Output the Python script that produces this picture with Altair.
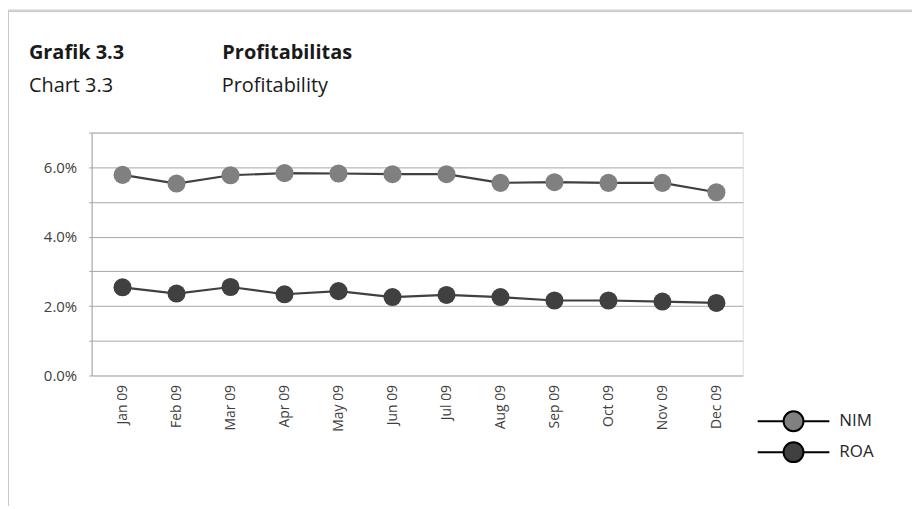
import altair as alt
import pandas as pd

months = ["Jan 09", "Feb 09", "Mar 09", "Apr 09", "May 09", "Jun 09",
          "Jul 09", "Aug 09", "Sep 09", "Oct 09", "Nov 09", "Dec 09"]
nim = [5.78, 5.53, 5.77, 5.83, 5.82, 5.80, 5.80, 5.55, 5.57, 5.55, 5.55, 5.28]
roa = [2.54, 2.36, 2.55, 2.34, 2.43, 2.26, 2.32, 2.26, 2.16, 2.16, 2.13, 2.09]
series = ["NIM", "ROA"]
colors = ["#808080", "#404040"]

rows = []
for name, vals in zip(series, [nim, roa]):
    for m, v in zip(months, vals):
        rows.append({"month": m, "series": name, "value": v / 100})
df = pd.DataFrame(rows)

FONT = "Open Sans"
legend_path = ("M-3.6,0H-1M1,0H3.6"
               "M1,0A1,1,0,1,1,-1,0A1,1,0,1,1,1,0Z")

x = alt.X("month:N", sort=months, title=None,
          scale=alt.Scale(padding=0.53, align=0.54),
          axis=alt.Axis(labelAngle=-90, ticks=False, domain=False, grid=False,
                        labelFontSize=14, labelColor="#404040", labelPadding=9,
                        labelFont=FONT))
y = alt.Y("value:Q", title=None,
          scale=alt.Scale(domain=[0, 0.07], nice=False),
          axis=alt.Axis(values=[0, 0.01, 0.02, 0.03, 0.04, 0.05, 0.06, 0.07],
                        labelExpr="round(datum.value*100) % 2 == 0 ? format(datum.value, '.1%') : ''",
                        grid=True, gridColor="#a6a6a6", gridWidth=1,
                        domainColor="#a6a6a6", tickColor="#a6a6a6", tickSize=3,
                        labelFontSize=15, labelColor="#404040", labelPadding=12,
                        labelFont=FONT))

lines = alt.Chart(df).mark_line(color="#404040", strokeWidth=2.2).encode(
    x=x, y=y, detail="series:N")

points = alt.Chart(df).mark_circle(size=330, opacity=1).encode(
    x=x, y=y,
    color=alt.Color("series:N", sort=series,
                    scale=alt.Scale(domain=series, range=colors),
                    legend=alt.Legend(title=None, orient="none",
                                      legendX=694, legendY=279,
                                      symbolType=legend_path, symbolSize=400,
                                      symbolStrokeColor="black",
                                      symbolStrokeWidth=2,
                                      labelOffset=35, rowPadding=3,
                                      labelFontSize=17, labelColor="#262626",
                                      labelFont=FONT)))

# decorative frame shadow (top and left edges of the reference's panel)
one = pd.DataFrame({"k": [0]})
shadow_top = [
    alt.Chart(one).mark_rule(color=c, strokeWidth=1).encode(
        x=alt.value(-84), x2=alt.value(830), y=alt.value(-124 + i + 0.5))
    for i, c in enumerate(["#e4e4e4", "#d2d2d2", "#c2c2c2"])
]
shadow_left = [
    alt.Chart(one).mark_rule(color=c, strokeWidth=1).encode(
        x=alt.value(-84 + i + 0.5), y=alt.value(-121), y2=alt.value(380))
    for i, c in enumerate(["#c8c8c8"])
]

chart = alt.layer(*shadow_top, *shadow_left, lines, points).properties(
    width=654, height=244,
    autosize=alt.AutoSizeParams(type="none"),
    padding={"left": 84, "top": 124, "right": 170, "bottom": 130},
    title=alt.TitleParams(
        text="Grafik 3.3" + "\u00a0" * 19 + "Profitabilitas",
        subtitle="Chart 3.3" + "\u00a0" * 21 + "Profitability",
        anchor="start", frame="group", dx=-63, dy=124, offset=37,
        font=FONT, fontSize=20, fontWeight="bold", color="#1a1a1a",
        subtitleFont=FONT, subtitleFontSize=20, subtitleColor="#1a1a1a",
        subtitlePadding=13),
).configure_view(stroke=None).configure(background="white")

chart.save("out.html", embed_options={"renderer": "svg", "actions": False})
